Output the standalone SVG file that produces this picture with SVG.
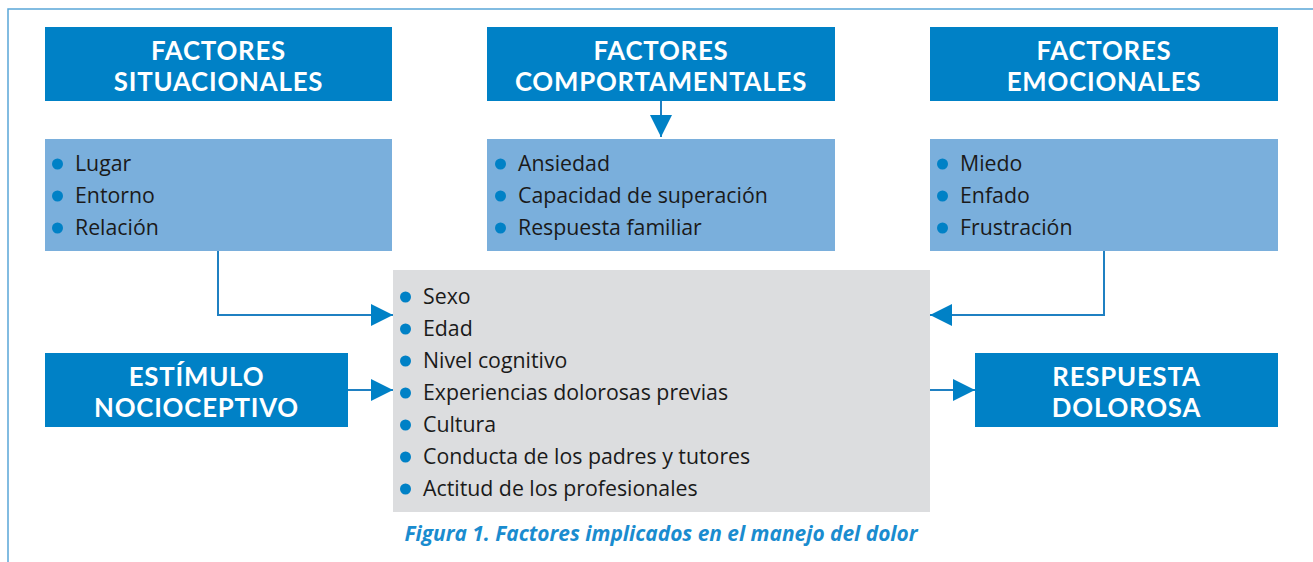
<svg xmlns="http://www.w3.org/2000/svg" width="1313" height="562" viewBox="0 0 1313 562">
<style>
.dark{fill:#0081c6}
.light{fill:#7aafdc}
.gray{fill:#dcdddf}
.title{font-family:Lato,"Open Sans","Liberation Sans",sans-serif;font-weight:bold;font-size:25.8px;letter-spacing:0.8px;fill:#ffffff;text-anchor:middle}
.item{font-family:"Open Sans","Liberation Sans",sans-serif;font-size:21.3px;fill:#1a1a1a}
.bul{fill:#0081c6}
.conn{fill:none;stroke:#1f80c2;stroke-width:2}
.cap{font-family:"Open Sans","Liberation Sans",sans-serif;font-weight:bold;font-style:italic;font-size:20.9px;fill:#1a8ccf;text-anchor:middle}
</style>
<defs>
<marker id="arr" markerUnits="userSpaceOnUse" markerWidth="22" markerHeight="22" viewBox="0 0 22 22" refX="22" refY="11" orient="auto">
<path d="M0,0 L22,11 L0,22 Z" fill="#0081c6"/>
</marker>
</defs>
<path d="M8,562 L8,9 L1313,9" fill="none" stroke="#5aa6d8" stroke-width="1.5"/>
<g id="connectors">
<path class="conn" d="M661,101 L661,137" marker-end="url(#arr)"/>
<path class="conn" d="M218,251 L218,315 L393,315" marker-end="url(#arr)"/>
<path class="conn" d="M1104,251 L1104,315 L930,315" marker-end="url(#arr)"/>
<path class="conn" d="M348,390 L393,390" marker-end="url(#arr)"/>
<path class="conn" d="M930,390 L975,390" marker-end="url(#arr)"/>
</g>
<g id="factores-situacionales">
<rect class="dark" x="45" y="27" width="347" height="74"/>
<text class="title" x="218.5" y="60">FACTORES</text>
<text class="title" x="218.5" y="91">SITUACIONALES</text>
</g>
<g id="factores-comportamentales">
<rect class="dark" x="487" y="27" width="348" height="74"/>
<text class="title" x="661" y="60">FACTORES</text>
<text class="title" x="661" y="91">COMPORTAMENTALES</text>
</g>
<g id="factores-emocionales">
<rect class="dark" x="930" y="27" width="348" height="74"/>
<text class="title" x="1104" y="60">FACTORES</text>
<text class="title" x="1104" y="91">EMOCIONALES</text>
</g>
<g id="lista-situacionales">
<rect class="light" x="45" y="139" width="347" height="112"/>
<circle class="bul" cx="57.5" cy="164" r="5.5"/><text class="item" x="75" y="171">Lugar</text>
<circle class="bul" cx="57.5" cy="196" r="5.5"/><text class="item" x="75" y="203">Entorno</text>
<circle class="bul" cx="57.5" cy="228" r="5.5"/><text class="item" x="75" y="235">Relación</text>
</g>
<g id="lista-comportamentales">
<rect class="light" x="487" y="139" width="348" height="112"/>
<circle class="bul" cx="500.5" cy="164" r="5.5"/><text class="item" x="518" y="171">Ansiedad</text>
<circle class="bul" cx="500.5" cy="196" r="5.5"/><text class="item" x="518" y="203">Capacidad de superación</text>
<circle class="bul" cx="500.5" cy="228" r="5.5"/><text class="item" x="518" y="235">Respuesta familiar</text>
</g>
<g id="lista-emocionales">
<rect class="light" x="930" y="139" width="348" height="112"/>
<circle class="bul" cx="942.5" cy="164" r="5.5"/><text class="item" x="960" y="171">Miedo</text>
<circle class="bul" cx="942.5" cy="196" r="5.5"/><text class="item" x="960" y="203">Enfado</text>
<circle class="bul" cx="942.5" cy="228" r="5.5"/><text class="item" x="960" y="235">Frustración</text>
</g>
<g id="factores-centrales">
<rect class="gray" x="393" y="270" width="537" height="242"/>
<circle class="bul" cx="405.5" cy="297" r="5.5"/><text class="item" x="423" y="304">Sexo</text>
<circle class="bul" cx="405.5" cy="329" r="5.5"/><text class="item" x="423" y="336">Edad</text>
<circle class="bul" cx="405.5" cy="361" r="5.5"/><text class="item" x="423" y="368">Nivel cognitivo</text>
<circle class="bul" cx="405.5" cy="393" r="5.5"/><text class="item" x="423" y="400">Experiencias dolorosas previas</text>
<circle class="bul" cx="405.5" cy="425" r="5.5"/><text class="item" x="423" y="432">Cultura</text>
<circle class="bul" cx="405.5" cy="457" r="5.5"/><text class="item" x="423" y="464">Conducta de los padres y tutores</text>
<circle class="bul" cx="405.5" cy="489" r="5.5"/><text class="item" x="423" y="496">Actitud de los profesionales</text>
</g>
<g id="estimulo-nociceptivo">
<rect class="dark" x="45" y="353" width="303" height="74"/>
<text class="title" x="196.5" y="386">ESTÍMULO</text>
<text class="title" x="196.5" y="417">NOCIOCEPTIVO</text>
</g>
<g id="respuesta-dolorosa">
<rect class="dark" x="975" y="353" width="303" height="74"/>
<text class="title" x="1126.5" y="386">RESPUESTA</text>
<text class="title" x="1126.5" y="417">DOLOROSA</text>
</g>
<text class="cap" x="661" y="541">Figura 1. Factores implicados en el manejo del dolor</text>
</svg>
